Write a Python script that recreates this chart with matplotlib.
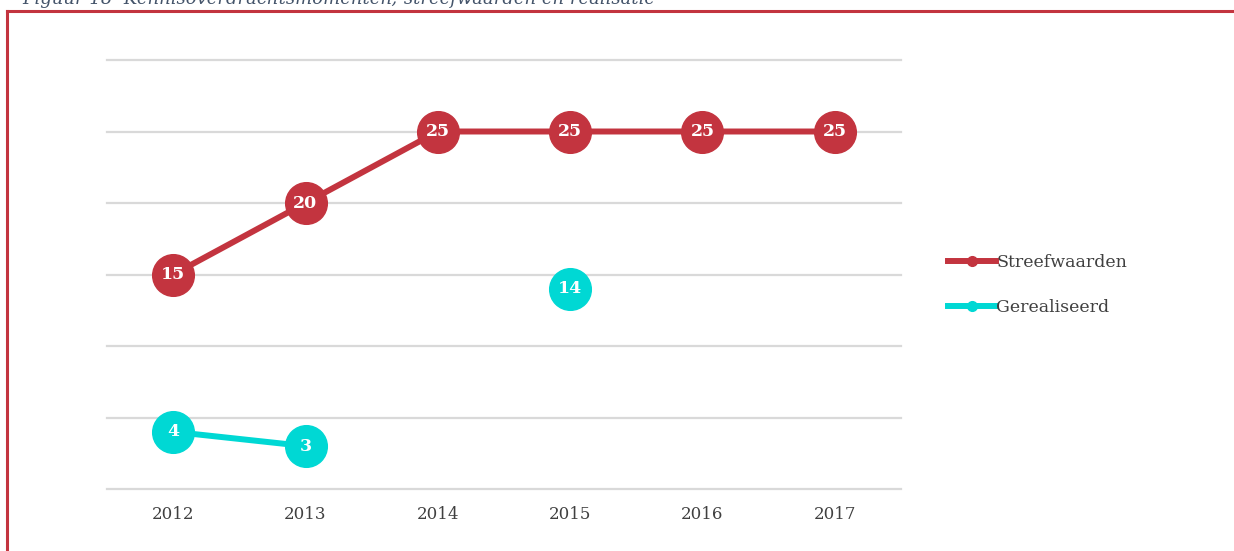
import numpy as np
import matplotlib
matplotlib.use('Agg')
import matplotlib.pyplot as plt
from matplotlib.lines import Line2D

# gegevens
jaren = ['2012', '2013', '2014', '2015', '2016', '2017']
streefwaarden = [15, 20, 25, 25, 25, 25]
gerealiseerd = [4, 3, np.nan, 14, np.nan, np.nan]

rood = '#C3343F'
cyaan = '#00D8D4'
tekst = '#404040'

plt.rcParams['font.family'] = ['DejaVu Serif']

fig = plt.figure(figsize=(12.34, 5.51), dpi=100)
ax = fig.add_axes([107/1234, 62/551, (901-107)/1234, (489-60)/551])

x = np.arange(len(jaren))
ax.plot(x, streefwaarden, color=rood, lw=4.3, marker='o', ms=30, zorder=3, clip_on=False)
ax.plot(x, gerealiseerd, color=cyaan, lw=4.3, marker='o', ms=30, zorder=3, clip_on=False)

# waarden in de bolletjes
for xi, v in zip(x, streefwaarden):
    ax.text(xi, v, str(v), color='white', fontsize=12.5, fontweight='bold',
            ha='center', va='center', zorder=4)
for xi, v in zip(x, gerealiseerd):
    if not np.isnan(v):
        ax.text(xi, v, str(int(v)), color='white', fontsize=12.5, fontweight='bold',
                ha='center', va='center', zorder=4)

ax.set_xlim(-0.5, len(jaren) - 0.5)
ax.set_ylim(0, 30)
ax.set_yticks(np.arange(0, 31, 5))
ax.yaxis.grid(True, color='#D9D9D9', lw=1.6)
for gl in ax.get_ygridlines():
    gl.set_clip_on(False)
ax.set_axisbelow(True)
ax.tick_params(axis='y', left=False, labelleft=False)
ax.tick_params(axis='x', bottom=False, labelsize=12, labelcolor=tekst, pad=9)
ax.set_xticks(x)
ax.set_xticklabels(jaren)
for s in ax.spines.values():
    s.set_visible(False)

# legenda
handles = [
    Line2D([], [], color=rood, lw=4.3, marker='o', ms=7),
    Line2D([], [], color=cyaan, lw=4.3, marker='o', ms=7),
]
fig.legend(handles, ['Streefwaarden', 'Gerealiseerd'], loc='center left',
           bbox_to_anchor=(932/1234, 1 - 285/551), frameon=False, fontsize=12.5,
           labelcolor=tekst, handlelength=2.8, handletextpad=0.0, labelspacing=1.6)

# kader en titel
fig.add_artist(Line2D([7/1234, 1], [1 - 11/551, 1 - 11/551], color=rood, lw=2.2,
                      transform=fig.transFigure))
fig.add_artist(Line2D([7/1234, 7/1234], [0, 1 - 11/551], color=rood, lw=2.2,
                      transform=fig.transFigure))
fig.text(22/1234, 1 - 4/551, 'Figuur 18  Kennisoverdrachtsmomenten; streefwaarden en realisatie',
         fontsize=13, style='italic', color='#44546A', va='baseline', ha='left')

fig.savefig('out.png', dpi=100)
